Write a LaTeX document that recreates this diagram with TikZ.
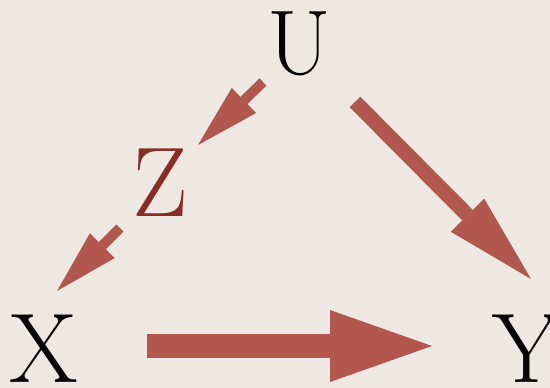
\documentclass[tikz,border=0pt]{standalone}
\usetikzlibrary{arrows.meta}
\definecolor{paper}{HTML}{EDE8E2}
\definecolor{arrowred}{HTML}{B2574E}
\definecolor{zred}{HTML}{8A2B24}
\begin{document}
\begin{tikzpicture}[x=1pt,y=-1pt]
  \tikzstyle{every node}=[inner sep=0pt,font=\fontsize{99}{99}\selectfont]
  \tikzstyle{thin arrow}=[draw=arrowred,line width=10pt,
  -{Triangle[length=64pt,width=35pt,line width=0pt]}]
  \tikzstyle{mid arrow}=[draw=arrowred,line width=15pt,
  -{Triangle[length=90pt,width=47pt,line width=0pt]}]
  \tikzstyle{fat arrow}=[draw=arrowred,line width=24pt,
  -{Triangle[length=102pt,width=72pt,line width=0pt]}]

  \fill[paper] (0,0) rectangle (550,388);
  \useasboundingbox (0,0) rectangle (550,388);

  \node[font=\fontsize{92}{92}\selectfont] (U) at (299,44) {U};
  \node[text=zred] (Z) at (160,183) {Z};
  \node (X) at (44,349) {X};
  \node (Y) at (527,349) {Y};

  \draw[thin arrow] ([shift={(-36,38)}]U.center) -- ([shift={(38,-38)}]Z.center);
  \draw[thin arrow] ([shift={(-40,45)}]Z.center) -- ([shift={(13,-58)}]X.center);
  \draw[mid arrow] ([shift={(56,58)}]U.center) -- ([shift={(4,-70)}]Y.center);
  \draw[fat arrow] ([shift={(103,-3)}]X.center) -- ([shift={(-95,-3)}]Y.center);
\end{tikzpicture}
\end{document}
